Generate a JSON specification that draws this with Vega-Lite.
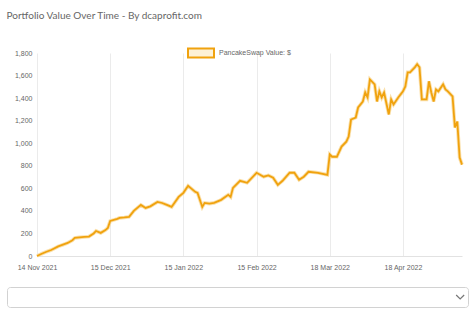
{
  "$schema": "https://vega.github.io/schema/vega-lite/v6.json",
  "background": "white",
  "padding": {"left": 6, "top": 11, "right": 7, "bottom": 3},
  "title": {"text": "Portfolio Value Over Time - By dcaprofit.com", "anchor": "start", "font": "Lato", "fontSize": 10, "fontWeight": "normal", "color": "#666666", "offset": 18},
  "config": {"view": {"stroke": null}, "font": "Liberation Sans"},
  "spacing": 16,
  "vconcat": [
    {
      "width": 461,
      "height": 203,
      "data": {"values": [
        {"date": "2021-11-14", "value": 0},
        {"date": "2021-11-16", "value": 20},
        {"date": "2021-11-18", "value": 38},
        {"date": "2021-11-20", "value": 53},
        {"date": "2021-11-23", "value": 85},
        {"date": "2021-11-25", "value": 100},
        {"date": "2021-11-27", "value": 116},
        {"date": "2021-11-29", "value": 140},
        {"date": "2021-11-30", "value": 160},
        {"date": "2021-12-02", "value": 165},
        {"date": "2021-12-04", "value": 169},
        {"date": "2021-12-06", "value": 172},
        {"date": "2021-12-08", "value": 200},
        {"date": "2021-12-09", "value": 222},
        {"date": "2021-12-11", "value": 205},
        {"date": "2021-12-13", "value": 230},
        {"date": "2021-12-14", "value": 249},
        {"date": "2021-12-15", "value": 311},
        {"date": "2021-12-18", "value": 329},
        {"date": "2021-12-19", "value": 338},
        {"date": "2021-12-21", "value": 342},
        {"date": "2021-12-23", "value": 347},
        {"date": "2021-12-25", "value": 400},
        {"date": "2021-12-28", "value": 453},
        {"date": "2021-12-30", "value": 426},
        {"date": "2022-01-01", "value": 440},
        {"date": "2022-01-04", "value": 480},
        {"date": "2022-01-06", "value": 470},
        {"date": "2022-01-08", "value": 453},
        {"date": "2022-01-10", "value": 435},
        {"date": "2022-01-13", "value": 524},
        {"date": "2022-01-15", "value": 560},
        {"date": "2022-01-17", "value": 622},
        {"date": "2022-01-20", "value": 569},
        {"date": "2022-01-21", "value": 560},
        {"date": "2022-01-23", "value": 435},
        {"date": "2022-01-24", "value": 471},
        {"date": "2022-01-26", "value": 465},
        {"date": "2022-01-28", "value": 471},
        {"date": "2022-01-31", "value": 498},
        {"date": "2022-02-03", "value": 542},
        {"date": "2022-02-04", "value": 524},
        {"date": "2022-02-05", "value": 604},
        {"date": "2022-02-08", "value": 667},
        {"date": "2022-02-11", "value": 649},
        {"date": "2022-02-15", "value": 738},
        {"date": "2022-02-18", "value": 703},
        {"date": "2022-02-20", "value": 715},
        {"date": "2022-02-22", "value": 694},
        {"date": "2022-02-24", "value": 631},
        {"date": "2022-02-26", "value": 667},
        {"date": "2022-03-01", "value": 738},
        {"date": "2022-03-03", "value": 738},
        {"date": "2022-03-05", "value": 676},
        {"date": "2022-03-07", "value": 703},
        {"date": "2022-03-09", "value": 747},
        {"date": "2022-03-13", "value": 738},
        {"date": "2022-03-17", "value": 720},
        {"date": "2022-03-18", "value": 900},
        {"date": "2022-03-19", "value": 880},
        {"date": "2022-03-21", "value": 880},
        {"date": "2022-03-23", "value": 970},
        {"date": "2022-03-25", "value": 1014},
        {"date": "2022-03-26", "value": 1059},
        {"date": "2022-03-27", "value": 1210},
        {"date": "2022-03-29", "value": 1228},
        {"date": "2022-03-30", "value": 1317},
        {"date": "2022-04-01", "value": 1370},
        {"date": "2022-04-02", "value": 1450},
        {"date": "2022-04-03", "value": 1406},
        {"date": "2022-04-04", "value": 1566},
        {"date": "2022-04-06", "value": 1522},
        {"date": "2022-04-07", "value": 1370},
        {"date": "2022-04-08", "value": 1460},
        {"date": "2022-04-09", "value": 1406},
        {"date": "2022-04-10", "value": 1450},
        {"date": "2022-04-12", "value": 1255},
        {"date": "2022-04-13", "value": 1388},
        {"date": "2022-04-14", "value": 1344},
        {"date": "2022-04-16", "value": 1406},
        {"date": "2022-04-18", "value": 1460},
        {"date": "2022-04-19", "value": 1504},
        {"date": "2022-04-20", "value": 1629},
        {"date": "2022-04-21", "value": 1629},
        {"date": "2022-04-23", "value": 1673},
        {"date": "2022-04-24", "value": 1700},
        {"date": "2022-04-25", "value": 1673},
        {"date": "2022-04-26", "value": 1388},
        {"date": "2022-04-28", "value": 1388},
        {"date": "2022-04-29", "value": 1549},
        {"date": "2022-04-30", "value": 1450},
        {"date": "2022-05-01", "value": 1370},
        {"date": "2022-05-02", "value": 1477},
        {"date": "2022-05-03", "value": 1460},
        {"date": "2022-05-05", "value": 1522},
        {"date": "2022-05-06", "value": 1477},
        {"date": "2022-05-07", "value": 1460},
        {"date": "2022-05-09", "value": 1415},
        {"date": "2022-05-10", "value": 1139},
        {"date": "2022-05-11", "value": 1193},
        {"date": "2022-05-12", "value": 872},
        {"date": "2022-05-13", "value": 810}
      ]},
      "encoding": {
        "x": {
          "field": "date", "type": "temporal",
          "scale": {"type": "utc", "nice": false, "range": [30, 455],
            "domain": [{"year": 2021, "month": 11, "date": 14, "utc": true}, {"year": 2022, "month": 5, "date": 13, "utc": true}]},
          "axis": {
            "title": null, "format": "%d %b %Y",
            "values": [
              {"year": 2021, "month": 11, "date": 14, "utc": true},
              {"year": 2021, "month": 12, "date": 15, "utc": true},
              {"year": 2022, "month": 1, "date": 15, "utc": true},
              {"year": 2022, "month": 2, "date": 15, "utc": true},
              {"year": 2022, "month": 3, "date": 18, "utc": true},
              {"year": 2022, "month": 4, "date": 18, "utc": true}
            ],
            "labelFontSize": 7, "labelColor": "#666666", "labelFlush": false, "labelOverlap": false,
            "labelPadding": 7, "ticks": false, "grid": true, "gridColor": "#ebebeb",
            "domainColor": "#e2e2e2"
          }
        },
        "y": {
          "field": "value", "type": "quantitative",
          "scale": {"domain": [0, 1800], "nice": false},
          "axis": {
            "title": null, "offset": -30, "values": [0, 200, 400, 600, 800, 1000, 1200, 1400, 1600, 1800],
            "format": ",.0f", "labelFontSize": 7, "labelColor": "#666666", "labelPadding": 5,
            "ticks": false, "domain": false, "grid": false
          }
        }
      },
      "layer": [
        {"mark": {"type": "line", "strokeWidth": 3.6, "color": "#f8d68f", "opacity": 0.75}},
        {
          "mark": {"type": "line", "strokeWidth": 1.8},
          "encoding": {
            "color": {
              "datum": "PancakeSwap Value: $",
              "scale": {"range": ["#f0a20e"]},
              "legend": {
                "title": null, "orient": "none", "legendX": 180, "legendY": -14, "padding": 0,
                "symbolType": "M-1,-0.35L1,-0.35L1,0.35L-1,0.35Z", "symbolSize": 676,
                "labelFontSize": 7, "labelColor": "#666666", "labelOffset": 4,
                "encode": {"symbols": {"update": {"fill": {"value": "#fdf1d6"}, "stroke": {"value": "#f2a516"}, "strokeWidth": {"value": 2}}}}
              }
            }
          }
        }
      ]
    },
    {
      "width": 461,
      "height": 20,
      "view": {"stroke": "#d2d2d2", "cornerRadius": 3, "fill": "white"},
      "data": {"values": [{}]},
      "mark": {"type": "point", "shape": "M-1,-0.5L0,0.5L1,-0.5", "filled": false, "size": 64, "strokeWidth": 1.2, "color": "#777777", "opacity": 1},
      "encoding": {
        "x": {"datum": 0.983, "type": "quantitative", "scale": {"domain": [0, 1]}, "axis": null}
      }
    }
  ]
}
